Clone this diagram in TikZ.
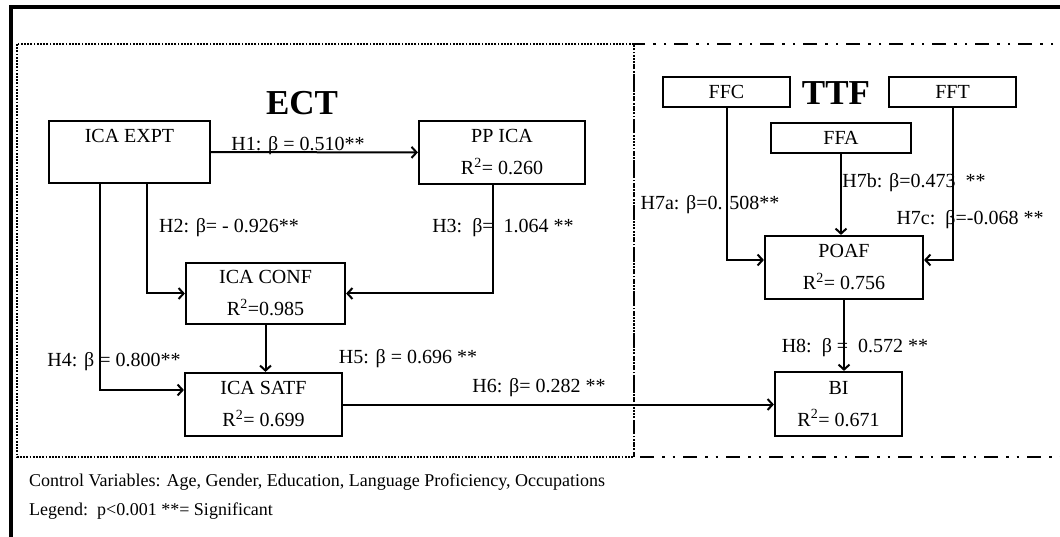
\documentclass[tikz,border=0pt]{standalone}
\usepackage{fontspec}
\setmainfont{Liberation Serif}
\usetikzlibrary{arrows.meta,positioning,calc}

\begin{document}
\begin{tikzpicture}[x=1pt,y=-1pt,>={Straight Barb[length=5pt,width=11pt]}]
  \tikzstyle{box}=[rectangle,draw,line width=2.2pt,align=center,inner sep=0pt,font=\fontsize{20}{22}\selectfont]
  \tikzstyle{lbl}=[inner sep=0pt,font=\fontsize{20}{22}\selectfont]
  \tikzstyle{arr}=[->,line width=2pt]
  \tikzstyle{ttl}=[inner sep=0pt,font=\fontsize{35}{38}\selectfont\bfseries]
  \useasboundingbox (0,0) rectangle (1060,537);
  % frames
  \draw[line width=4pt] (1075,7) -- (11,7) -- (11,550);
  \draw[line width=1.8pt,dash pattern=on 1.8pt off 1.4pt] (17,44) rectangle (634,457);
  \draw[line width=2pt,dash pattern=on 14pt off 8pt on 2.5pt off 8pt on 2.5pt off 8pt] (1075,44) -- (634,44) -- (634,457) -- (1075,457);
  \node[ttl] (ect) at (302,103) {ECT};
  \node[ttl] (ttf) at (836,93) {TTF};
  % ECT part
  \node[box,minimum width=161pt,minimum height=62pt] (expt) at (129.5,152) {ICA EXPT\\[10pt]~};
  \node[box,minimum width=166pt,minimum height=63pt] (ppica) at (502,152.5) {PP ICA\\[10pt]R\textsuperscript{2}= 0.260};
  \node[box,minimum width=159pt,minimum height=61pt] (conf) at (265.5,293.5) {ICA CONF\\[10pt]R\textsuperscript{2}=0.985};
  \node[box,minimum width=157pt,minimum height=63pt] (satf) at (263.5,404.5) {ICA SATF\\[10pt]R\textsuperscript{2}= 0.699};
  % TTF part
  \node[box,minimum width=127pt,minimum height=30pt] (ffc) at (726.5,92) {FFC};
  \node[box,minimum width=127pt,minimum height=30pt] (fft) at (952.5,92) {FFT};
  \node[box,minimum width=140pt,minimum height=30pt] (ffa) at (841,138) {FFA};
  \node[box,minimum width=158pt,minimum height=63pt] (poaf) at (844,267.5) {POAF\\[10pt]R\textsuperscript{2}= 0.756};
  \node[box,minimum width=127pt,minimum height=64pt] (bi) at (838.5,404) {BI\\[10pt]R\textsuperscript{2}= 0.671};
  % paths
  \draw[arr] (expt) -- (ppica);
  \draw[arr] ([xshift=17.5pt]expt.south) |- (conf.west);
  \draw[arr] ([xshift=-29.5pt]expt.south) |- ([yshift=14.5pt]satf.west);
  \draw[arr] ([xshift=-9pt]ppica.south) |- (conf.east);
  \draw[arr] (conf.south) -- (conf.south |- satf.north);
  \draw[arr] (satf.east) -- (satf.east -| bi.west);
  \draw[arr] (ffc.south) |- ([yshift=7.5pt]poaf.west);
  \draw[arr] (ffa.south) -- (ffa.south |- poaf.north);
  \draw[arr] (fft.south) |- ([yshift=7.5pt]poaf.east);
  \draw[arr] (poaf.south) -- (poaf.south |- bi.north);
  % coefficients
  \node[lbl] (h1) at (298,146) {H1: β = 0.510**};
  \node[lbl] (h2) at (229,228) {H2: β= - 0.926**};
  \node[lbl] (h3) at (503,228) {H3:\ \ β=\ \ 1.064 **};
  \node[lbl] (h4) at (114,362) {H4: β = 0.800**};
  \node[lbl] (h5) at (408,359) {H5: β = 0.696 **};
  \node[lbl] (h6) at (539,388) {H6: β= 0.282 **};
  \node[lbl] (h7a) at (710,205) {H7a: β=0. 508**};
  \node[lbl] (h7b) at (914,183) {H7b: β=0.473\ \ **};
  \node[lbl] (h7c) at (970,220) {H7c:\ \ β=-0.068 **};
  \node[lbl] (h8) at (855,348) {H8:\ \ β =\ \ 0.572 **};
  % notes
  \node[lbl,anchor=west,font=\fontsize{18}{20}\selectfont] (ctrl) at (29,482) {Control Variables: Age, Gender, Education, Language Proficiency, Occupations};
  \node[lbl,anchor=west,font=\fontsize{18}{20}\selectfont] (lgd) at (29,511) {Legend:\ \ p<0.001 **= Significant};
\end{tikzpicture}
\end{document}
